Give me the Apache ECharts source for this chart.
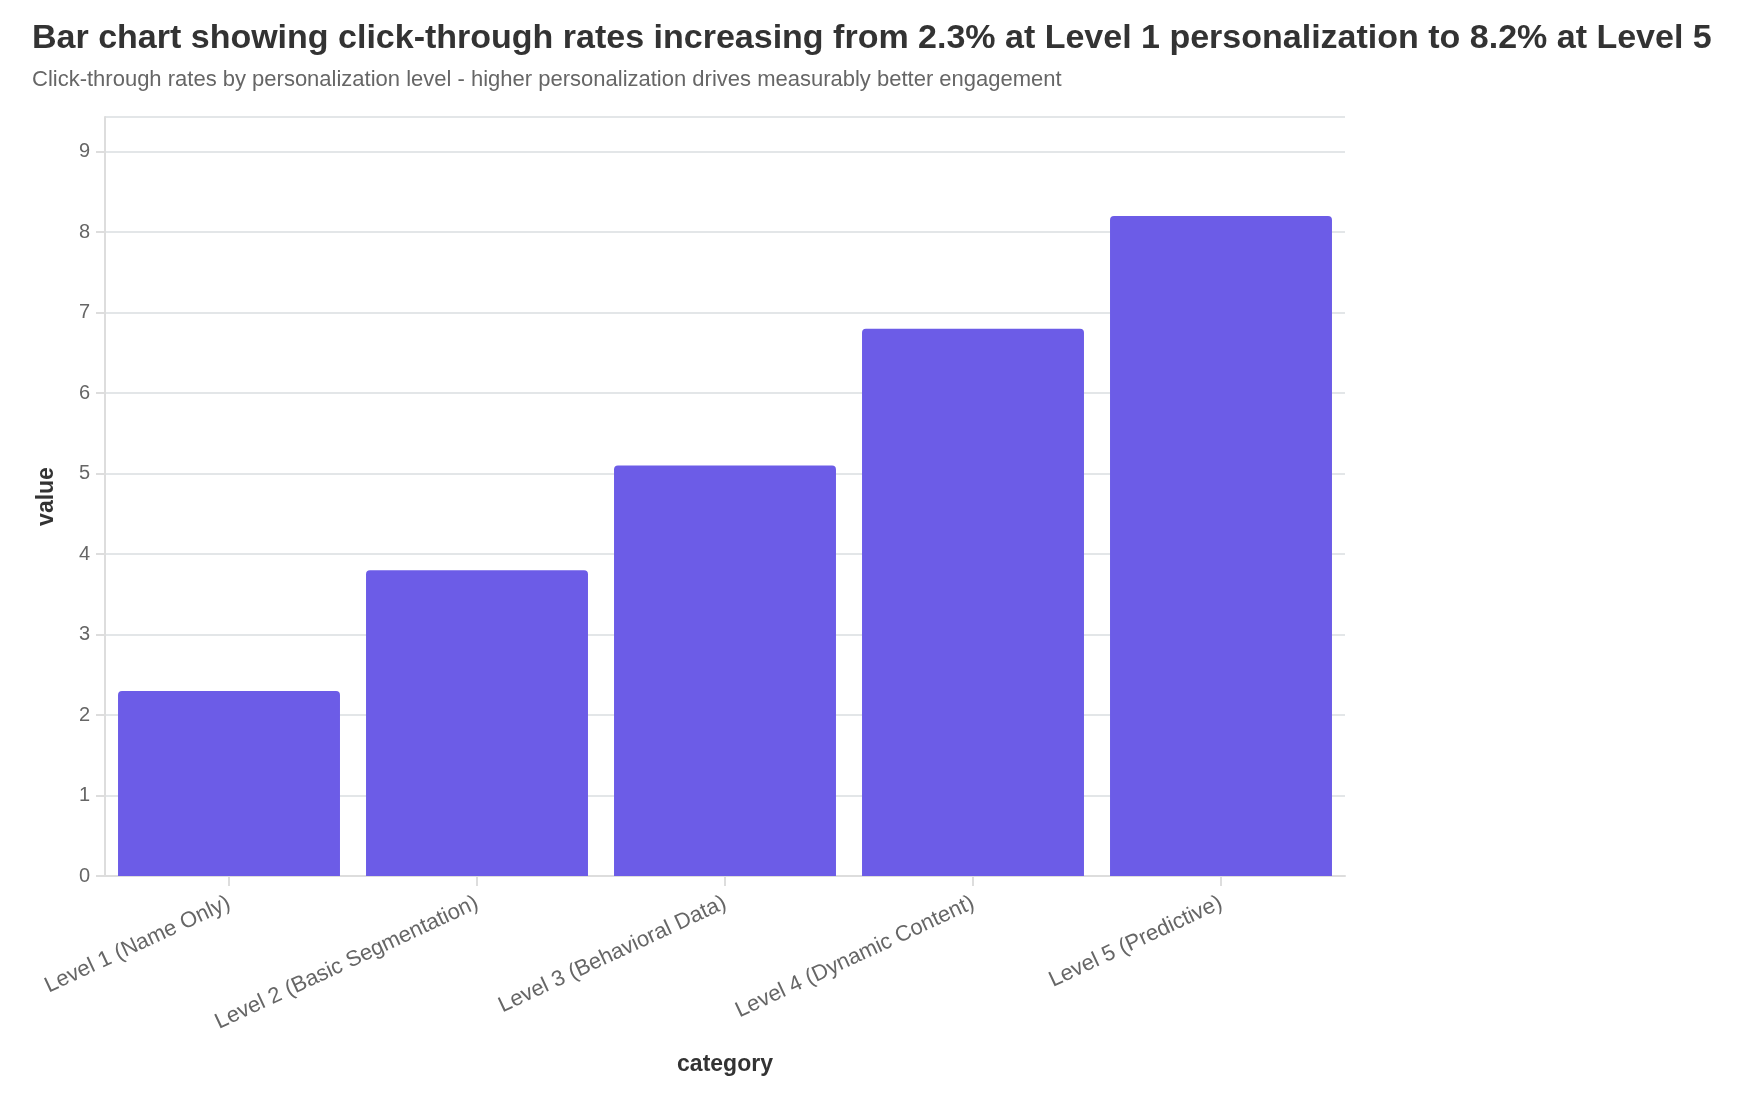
<!DOCTYPE html>
<html>
<head>
<meta charset="utf-8">
<script src="https://cdn.jsdelivr.net/npm/echarts@6/dist/echarts.min.js"></script>
<style>
    html, body { margin: 0; padding: 0; background: #fff; }
    #chart { width: 1762px; height: 1104px; }
</style>
</head>
<body>
<div id="chart"></div>
<script>
// Data
var categories = [
    'Level 1 (Name Only)',
    'Level 2 (Basic Segmentation)',
    'Level 3 (Behavioral Data)',
    'Level 4 (Dynamic Content)',
    'Level 5 (Predictive)'
];
var ctrValues = [2.3, 3.8, 5.1, 6.8, 8.2];

var titleText = 'Bar chart showing click-through rates increasing from 2.3% at Level 1 personalization to 8.2% at Level 5';
var subtitleText = 'Click-through rates by personalization level - higher personalization drives measurably better engagement';

var chartEl = document.getElementById('chart');
var chart = echarts.init(chartEl);

var fontFamily = '"Liberation Sans", Arial, Helvetica, sans-serif';

var options = {
    animation: false,
    textStyle: { fontFamily: fontFamily },

    title: {
        text: titleText,
        subtext: subtitleText,
        left: 27,
        top: 17,
        itemGap: 13,
        textStyle: {
            fontSize: 34,
            fontWeight: 'bold',
            color: '#333333',
            fontFamily: fontFamily
        },
        subtextStyle: {
            fontSize: 22,
            color: '#666666',
            fontFamily: fontFamily
        }
    },

    grid: {
        left: 105,
        right: 417,
        top: 117,
        bottom: 228,
        containLabel: false
    },

    xAxis: {
        type: 'category',
        data: categories,
        name: 'category',
        nameLocation: 'middle',
        nameGap: 177,
        nameTextStyle: {
            fontSize: 23,
            fontWeight: 'bold',
            color: '#333333'
        },
        axisLine: { lineStyle: { color: '#dddddd', width: 2 } },
        axisTick: { show: true, alignWithLabel: true, length: 10, lineStyle: { color: '#dddddd', width: 2 } },
        axisLabel: {
            rotate: 25,
            fontSize: 22,
            color: '#666666',
            margin: 26,
            interval: 0
        }
    },

    yAxis: {
        type: 'value',
        min: 0,
        max: 9.43,
        interval: 1,
        name: 'value',
        nameLocation: 'middle',
        nameGap: 47,
        nameTextStyle: {
            fontSize: 23,
            fontWeight: 'bold',
            color: '#333333'
        },
        axisLine: { show: true, lineStyle: { color: '#dddddd', width: 2 } },
        axisTick: { show: true, length: 9, lineStyle: { color: '#dddddd', width: 2 } },
        axisLabel: {
            fontSize: 20,
            color: '#666666',
            margin: 15,
            showMaxLabel: false
        },
        splitLine: { lineStyle: { color: '#e3e6e8', width: 2 } }
    },

    series: [{
        name: 'value',
        type: 'bar',
        data: ctrValues,
        barCategoryGap: '10.5%',
        itemStyle: {
            color: '#6c5ce7',
            borderRadius: [4, 4, 0, 0]
        }
    }]
};

chart.setOption(options);

window.addEventListener('resize', function() {
    chart.resize();
});
</script>
</body>
</html>
